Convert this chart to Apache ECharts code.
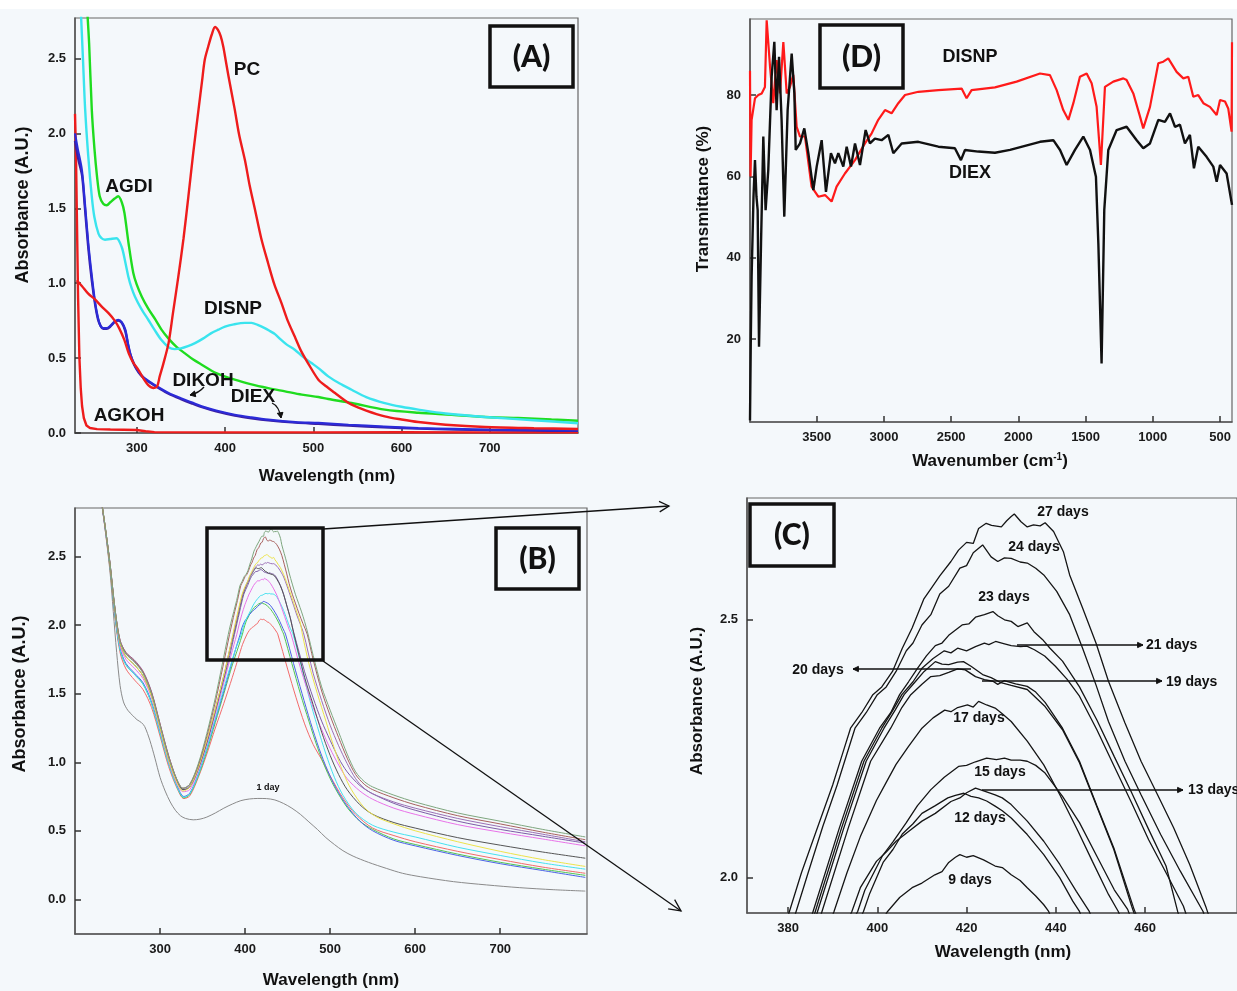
<!DOCTYPE html>
<html>
<head>
<meta charset="utf-8">
<script src="https://cdn.jsdelivr.net/npm/echarts@6/dist/echarts.min.js"></script>
<style>
  html, body { margin: 0; padding: 0; background: #f4f8fb; }
  #chart { width: 1237px; height: 991px; }
</style>
</head>
<body>
<div id="chart"></div>
<script>
// ---------- Panel A: UV-vis absorbance of extracts and nanoparticles ----------
const pcA = [[232,1.02],[238,0.98],[245,0.93],[253,0.89],[260,0.845],[268,0.80],[275,0.75],[280,0.70],[286,0.62],[291,0.53],[296,0.47],[302,0.42],[308,0.36],[313,0.32],[319,0.30],[323,0.31],[326,0.378],[330,0.46],[336,0.60],[341,0.80],[347,1.04],[353,1.30],[358.5,1.58],[364,1.87],[370,2.16],[374,2.35],[377,2.49],[381,2.58],[385,2.66],[388.7,2.71],[392,2.69],[395,2.65],[398,2.58],[401,2.48],[404,2.38],[411,2.16],[416,1.99],[422.6,1.82],[428,1.65],[434,1.49],[441,1.30],[449,1.13],[456,0.99],[464,0.867],[471,0.75],[479,0.644],[486,0.55],[494,0.467],[505.8,0.356],[515,0.31],[524.7,0.267],[534,0.225],[543.5,0.189],[560,0.15],[581,0.111],[600,0.09],[619,0.073],[650,0.055],[694.6,0.04],[750,0.032],[800,0.027]];
const agkohA = [[230,2.13],[231,1.9],[232,1.5],[233.5,0.9],[235,0.5],[236.5,0.3],[238,0.18],[240,0.10],[243,0.05],[247,0.033],[255,0.026],[270,0.023],[300,0.02],[310,0.012],[320,0.006],[400,0.004],[500,0.004],[600,0.005],[700,0.004],[800,0.005]];
const agdiA = [[243,2.9],[246,2.6],[249,2.16],[252,1.9],[255,1.71],[258,1.58],[262,1.53],[266,1.52],[270,1.54],[275,1.565],[279,1.58],[283,1.54],[286,1.47],[290.6,1.27],[296,1.07],[300,0.99],[305.7,0.91],[313,0.83],[320.8,0.76],[328,0.69],[336,0.63],[345,0.575],[355,0.53],[364,0.49],[373.6,0.456],[390,0.40],[411,0.356],[430,0.325],[449,0.30],[468,0.278],[487,0.256],[505.8,0.24],[517,0.227],[543.5,0.20],[581,0.156],[619,0.135],[657,0.122],[700,0.105],[732,0.10],[770,0.09],[800,0.082]];
const disnpA = [[236,2.9],[239,2.5],[241.5,2.16],[245,1.85],[249,1.58],[252,1.44],[256.6,1.33],[260,1.30],[264,1.29],[270,1.295],[277,1.30],[283,1.24],[287,1.14],[290.6,1.04],[294,0.97],[298,0.91],[305,0.83],[313,0.756],[320,0.69],[328,0.62],[336,0.573],[343,0.56],[350,0.565],[358,0.58],[366,0.60],[375,0.63],[384,0.665],[392.5,0.69],[400,0.71],[410,0.725],[422.6,0.735],[430,0.735],[437.7,0.72],[445,0.70],[451,0.68],[456.6,0.66],[463,0.625],[470,0.59],[479,0.556],[488,0.51],[498,0.467],[505.8,0.433],[517,0.378],[530,0.33],[543.5,0.289],[560,0.24],[581,0.20],[600,0.175],[619,0.156],[650,0.13],[694.6,0.107],[750,0.085],[800,0.065]];
const dikohA = [[230,2.0],[233,1.9],[237.7,1.76],[241,1.55],[245,1.27],[249,1.05],[252.8,0.87],[256,0.77],[258.5,0.72],[262,0.70],[266,0.70],[270,0.715],[275,0.745],[279,0.756],[283,0.74],[287,0.69],[290,0.60],[292.5,0.53],[297,0.46],[302,0.41],[308,0.37],[317,0.333],[326,0.30],[336,0.267],[350,0.232],[362,0.205],[373.6,0.178],[390,0.15],[411,0.122],[430,0.104],[449,0.089],[480,0.073],[505.8,0.067],[540,0.055],[580,0.043],[619,0.033],[660,0.027],[700,0.023],[750,0.02],[800,0.018]];
const diexA = [[230,1.95],[234,1.82],[238,1.72],[241,1.52],[245,1.24],[249,1.02],[253,0.85],[256,0.76],[259,0.715],[262,0.695],[266,0.695],[270,0.71],[275,0.74],[279,0.75],[283,0.735],[287,0.68],[290,0.59],[293,0.52],[297,0.455],[302,0.405],[308,0.365],[317,0.328],[326,0.295],[336,0.262],[350,0.226],[362,0.198],[374,0.172],[390,0.144],[411,0.116],[430,0.098],[449,0.084],[480,0.069],[506,0.061],[540,0.05],[580,0.038],[619,0.029],[660,0.023],[700,0.019],[750,0.016],[800,0.014]];

// ---------- Panel D: FTIR transmittance ----------
const disnpIR = [[3996,86],[3992,60],[3984,73.9],[3959,79.2],[3934,80],[3909,80.4],[3885,82],[3872,98.4],[3847,87],[3823,78],[3798,88.6],[3773,80.4],[3748,93],[3723,80.4],[3699,82],[3674,85],[3649,72.2],[3624,69.8],[3587,69.8],[3538,57.5],[3488,55],[3438,55.4],[3389,53.8],[3352,57.5],[3290,60.7],[3215,64],[3141,68.1],[3091,70.6],[3042,73.9],[2992,76.3],[2943,75.5],[2893,78],[2843,80],[2744,80.8],[2595,81.2],[2422,81.6],[2385,79.2],[2348,81.2],[2174,81.9],[2013,83.3],[1839,85.3],[1765,84.9],[1715,81.2],[1666,76.3],[1628,73.9],[1591,78],[1542,84.5],[1492,85.3],[1455,82.9],[1418,77.1],[1386,62.8],[1356,82],[1294,83.3],[1219,84.1],[1195,83.7],[1145,80.4],[1095,74.7],[1071,71.8],[1021,77.1],[959,87.8],[922,88.2],[885,89],[823,85.7],[773,84.1],[736,84.5],[699,79.6],[662,80],[624,78],[575,77.1],[525,75.1],[500,78.8],[463,78.4],[439,76.7],[414,71],[411,93]];
const diexIR = [[3996,0],[3990,20],[3984,35.3],[3970,55],[3959,64],[3948,55],[3939,51.7],[3929,18.1],[3914,43.5],[3897,69.8],[3880,51.7],[3860,61.6],[3835,84.5],[3815,93.1],[3798,76.3],[3780,89.4],[3761,73.9],[3741,50.1],[3716,76.3],[3686,90.2],[3666,80.4],[3656,66.5],[3624,68.1],[3592,71.8],[3562,65.7],[3525,56.6],[3500,62.4],[3463,68.9],[3431,56.2],[3394,65.7],[3364,63.2],[3339,65.7],[3302,62.4],[3277,67.3],[3245,62.4],[3215,68.1],[3178,62.8],[3136,71.4],[3104,68.1],[3067,69.3],[3017,68.9],[2967,70.2],[2930,65.7],[2868,68.1],[2744,68.5],[2595,67.3],[2472,66.9],[2427,64],[2397,66.5],[2298,66.1],[2174,65.8],[2062,66.5],[1839,68.5],[1740,68.9],[1690,66.5],[1641,62.8],[1579,66.5],[1517,69.8],[1467,66.5],[1423,59.9],[1405,43.5],[1381,14],[1361,51.7],[1331,66.5],[1269,71.4],[1195,72.2],[1120,68.9],[1071,66.9],[1021,68.1],[959,73.9],[910,73.4],[872,75.5],[835,72.2],[798,72.7],[761,68.1],[724,70.2],[694,62],[662,67.3],[600,64.8],[550,62.4],[525,58.7],[500,62.8],[451,60.7],[411,53]];

// ---------- Panels B and C: absorbance of the reaction mixture over time ----------
const day1 = [[230,2.95],[235,2.72],[241,2.40],[245,2.10],[249,1.80],[253,1.56],[257,1.44],[262,1.38],[268,1.34],[273,1.31],[278,1.29],[282,1.26],[288,1.16],[294,1.03],[300,0.89],[306,0.79],[312,0.71],[318,0.65],[324,0.61],[330,0.59],[339,0.58],[347,0.585],[355,0.60],[365,0.63],[375,0.665],[385,0.695],[395,0.72],[405,0.732],[415,0.736],[425,0.735],[435,0.725],[445,0.70],[455,0.665],[465,0.62],[475,0.565],[485,0.51],[495,0.45],[505,0.40],[515,0.355],[527,0.315],[545,0.27],[566,0.226],[585,0.19],[606,0.165],[645,0.129],[684,0.105],[723,0.085],[763,0.07],[800,0.06]];
const day9 = [[230,2.95],[235,2.72],[241,2.42],[247,2.06],[253,1.80],[260,1.68],[270,1.60],[280,1.53],[290,1.40],[300,1.19],[310,0.97],[320,0.81],[328,0.735],[335,0.755],[345,0.89],[355,1.06],[365,1.25],[375,1.43],[385,1.62],[392,1.76],[397,1.86],[402.3,1.935],[405,1.962],[407.8,1.981],[410,1.99],[412.9,2.006],[414.5,2.012],[416,2.03],[417.5,2.04],[418.5,2.045],[420,2.04],[421.5,2.043],[423.8,2.035],[426.4,2.023],[428,2.02],[430,2.006],[432,1.995],[433.6,1.981],[435.5,1.965],[437.3,1.948],[438.4,1.935],[450,1.68],[460,1.47],[470,1.28],[480,1.13],[490,1.02],[500,0.90],[515,0.74],[530,0.62],[550,0.52],[575,0.465],[600,0.42],[650,0.35],[700,0.29],[750,0.235],[800,0.19]];
const day12 = [[230,2.95],[235,2.73],[241,2.43],[247,2.07],[253,1.82],[260,1.71],[270,1.64],[280,1.57],[290,1.43],[300,1.21],[310,0.99],[320,0.82],[328,0.74],[335,0.765],[345,0.90],[355,1.08],[365,1.29],[375,1.50],[385,1.71],[392,1.84],[396.9,1.935],[398.3,1.97],[401.3,2.03],[403.5,2.055],[405.6,2.085],[408,2.105],[410,2.125],[413,2.14],[415.8,2.155],[417.5,2.16],[419.4,2.164],[421,2.158],[422.7,2.155],[424.5,2.149],[426.4,2.139],[428,2.13],[430,2.116],[433.6,2.084],[437.3,2.045],[440.9,2.0],[443.8,1.955],[445.3,1.935],[455,1.72],[465,1.50],[475,1.30],[485,1.11],[495,0.95],[505,0.82],[520,0.67],[535,0.57],[550,0.51],[575,0.44],[600,0.40],[650,0.33],[700,0.27],[750,0.22],[800,0.175]];
const day13 = [[230,2.95],[235,2.73],[241,2.44],[247,2.08],[253,1.83],[260,1.72],[270,1.65],[280,1.58],[290,1.44],[300,1.22],[310,1.00],[320,0.83],[328,0.75],[335,0.775],[345,0.915],[355,1.10],[365,1.31],[375,1.52],[385,1.74],[390,1.85],[394.3,1.935],[396.2,1.981],[399.8,2.032],[402,2.05],[404.2,2.071],[407,2.09],[410,2.11],[413,2.125],[416.5,2.148],[418.5,2.155],[420,2.165],[422,2.174],[424,2.168],[426.4,2.161],[428,2.155],[430,2.142],[433.6,2.11],[437.3,2.071],[440.9,2.026],[444.6,1.974],[447.5,1.935],[457,1.72],[467,1.50],[477,1.29],[487,1.10],[497,0.94],[507,0.81],[520,0.68],[535,0.57],[550,0.50],[575,0.43],[600,0.39],[650,0.32],[700,0.26],[750,0.21],[800,0.16]];
const day15 = [[230,2.95],[235,2.73],[241,2.44],[247,2.08],[253,1.82],[260,1.71],[270,1.64],[280,1.57],[290,1.43],[300,1.21],[310,0.99],[320,0.82],[328,0.745],[335,0.77],[345,0.91],[355,1.10],[365,1.32],[375,1.54],[385,1.75],[390,1.845],[395.6,1.935],[397.2,1.976],[401.1,2.042],[403.5,2.07],[406.5,2.107],[409,2.14],[412,2.171],[415,2.195],[418.2,2.216],[420,2.218],[422,2.225],[424.5,2.232],[426.7,2.229],[428.5,2.232],[430,2.228],[432,2.228],[433.6,2.226],[435.5,2.218],[437.6,2.203],[441.5,2.158],[445.3,2.107],[449.2,2.042],[453.1,1.977],[456.1,1.939],[465,1.73],[475,1.48],[485,1.26],[495,1.06],[505,0.89],[515,0.76],[530,0.63],[550,0.54],[575,0.49],[600,0.455],[650,0.38],[700,0.32],[750,0.265],[800,0.22]];
const day17 = [[230,2.95],[235,2.73],[241,2.45],[247,2.10],[253,1.85],[260,1.75],[270,1.685],[280,1.61],[290,1.47],[300,1.24],[310,1.01],[320,0.84],[327,0.785],[335,0.80],[345,0.94],[355,1.13],[365,1.35],[375,1.58],[383,1.77],[387,1.86],[390.3,1.935],[393.2,2.01],[396.2,2.08],[399.8,2.15],[402,2.185],[404.2,2.22],[407,2.255],[410,2.29],[412.5,2.31],[415.1,2.325],[416.5,2.322],[418,2.33],[420.2,2.335],[421.5,2.331],[422.7,2.342],[424.5,2.335],[426.4,2.329],[428,2.318],[430,2.303],[433.6,2.265],[437.3,2.219],[440.9,2.161],[444.6,2.097],[448.2,2.032],[451.8,1.968],[454,1.935],[465,1.69],[480,1.40],[490,1.24],[500,1.10],[510,0.98],[520,0.88],[535,0.79],[550,0.73],[575,0.665],[600,0.62],[650,0.545],[700,0.49],[750,0.44],[800,0.39]];
const day19 = [[230,2.95],[235,2.74],[241,2.46],[247,2.12],[253,1.88],[260,1.79],[270,1.735],[280,1.655],[290,1.505],[300,1.27],[310,1.04],[320,0.86],[327,0.80],[335,0.82],[345,0.95],[355,1.14],[365,1.37],[376,1.63],[382,1.78],[387.5,1.932],[393.5,2.097],[398.5,2.226],[403,2.29],[405.5,2.33],[407.5,2.355],[410,2.375],[412,2.39],[414,2.392],[416,2.398],[418,2.405],[419.7,2.403],[422,2.39],[424,2.384],[425.9,2.381],[427,2.375],[428.4,2.382],[431,2.376],[433.6,2.371],[435.5,2.36],[437.6,2.34],[441.5,2.29],[445.3,2.226],[449.2,2.14],[453,2.058],[457.5,1.94],[470,1.66],[480,1.47],[490,1.30],[500,1.16],[510,1.03],[520,0.93],[535,0.83],[550,0.77],[575,0.70],[600,0.65],[650,0.57],[700,0.51],[750,0.46],[800,0.41]];
const day20 = [[230,2.95],[235,2.74],[241,2.45],[247,2.11],[253,1.87],[260,1.77],[270,1.71],[280,1.63],[290,1.49],[300,1.26],[310,1.03],[320,0.86],[327,0.80],[335,0.82],[345,0.96],[355,1.15],[365,1.38],[376,1.65],[381,1.79],[386.5,1.932],[392.5,2.097],[397.5,2.226],[401.5,2.29],[404,2.325],[406,2.355],[408.5,2.38],[410.5,2.40],[413,2.419],[414.5,2.414],[416,2.413],[418,2.418],[419.3,2.419],[421,2.41],[423.6,2.394],[425.5,2.388],[427.5,2.379],[430,2.373],[433.6,2.365],[437.6,2.332],[441.5,2.287],[445.3,2.223],[449.2,2.138],[453,2.055],[457,1.945],[470,1.62],[480,1.42],[490,1.22],[500,1.05],[510,0.91],[520,0.80],[535,0.69],[550,0.62],[575,0.56],[600,0.52],[650,0.45],[700,0.395],[750,0.345],[800,0.30]];
const day21 = [[230,2.95],[235,2.74],[241,2.46],[247,2.12],[253,1.89],[260,1.80],[270,1.745],[280,1.665],[290,1.515],[300,1.28],[310,1.05],[320,0.87],[327,0.81],[335,0.83],[345,0.97],[355,1.16],[365,1.39],[376,1.66],[381,1.80],[386,1.932],[392,2.097],[397,2.226],[401,2.29],[403.5,2.325],[405.5,2.355],[408,2.38],[410,2.406],[412.5,2.425],[415,2.44],[416.5,2.436],[418,2.445],[420,2.44],[422,2.448],[424,2.455],[425,2.452],[426.5,2.458],[428.3,2.454],[430,2.45],[432.1,2.448],[433.5,2.449],[435.2,2.442],[437.5,2.43],[439.9,2.41],[442.5,2.385],[445.3,2.352],[449.2,2.287],[453.1,2.216],[457,2.145],[460.8,2.074],[464.7,2.01],[468.6,1.945],[480,1.65],[490,1.45],[500,1.27],[510,1.12],[520,0.99],[530,0.88],[540,0.81],[550,0.77],[575,0.71],[600,0.665],[650,0.59],[700,0.53],[750,0.475],[800,0.42]];
const day23 = [[230,2.95],[235,2.74],[241,2.45],[247,2.11],[253,1.87],[260,1.77],[270,1.71],[280,1.63],[290,1.48],[300,1.25],[310,1.02],[320,0.85],[327,0.79],[335,0.82],[345,0.96],[355,1.16],[365,1.39],[376,1.66],[381,1.80],[385.5,1.932],[391.5,2.097],[396.5,2.226],[400.5,2.29],[403,2.32],[405,2.355],[407,2.38],[409,2.406],[411,2.43],[413,2.45],[414.5,2.455],[416,2.47],[419,2.49],[420.5,2.492],[422,2.505],[424,2.51],[425.9,2.516],[427,2.508],[428.5,2.50],[430,2.497],[431.5,2.487],[433.6,2.494],[435.1,2.477],[437,2.462],[438.7,2.445],[441.5,2.42],[445.3,2.37],[449.2,2.306],[453.1,2.235],[457,2.165],[460.8,2.094],[464.7,2.023],[467.3,1.935],[475,1.72],[485,1.50],[495,1.30],[505,1.10],[515,0.93],[525,0.80],[540,0.67],[555,0.60],[575,0.55],[600,0.50],[650,0.42],[700,0.35],[750,0.29],[800,0.24]];
const day24 = [[230,2.95],[235,2.74],[241,2.46],[247,2.12],[253,1.89],[260,1.80],[270,1.74],[280,1.66],[290,1.51],[300,1.28],[310,1.05],[320,0.87],[327,0.81],[335,0.84],[345,0.98],[355,1.19],[365,1.44],[374,1.70],[381.7,1.932],[384.5,2.01],[387.8,2.10],[391,2.18],[395,2.29],[397.5,2.32],[400,2.355],[402,2.37],[404.2,2.40],[406.5,2.44],[408,2.455],[410,2.49],[412,2.51],[414,2.55],[416,2.565],[418.5,2.60],[420,2.605],[421.5,2.63],[423.6,2.645],[425.5,2.622],[427,2.613],[428.5,2.62],[430,2.619],[432,2.612],[433.6,2.61],[435.5,2.6],[437.3,2.587],[440.2,2.555],[443.1,2.51],[446,2.445],[449,2.374],[451.8,2.303],[455.5,2.226],[459.1,2.161],[463.5,2.084],[467.9,2.013],[473,1.935],[480,1.75],[490,1.52],[500,1.34],[510,1.18],[520,1.03],[530,0.91],[540,0.84],[550,0.80],[575,0.74],[600,0.69],[650,0.61],[700,0.55],[750,0.49],[800,0.435]];
const day27 = [[230,2.95],[235,2.74],[241,2.46],[247,2.12],[253,1.88],[260,1.79],[270,1.73],[280,1.65],[290,1.50],[300,1.27],[310,1.04],[320,0.87],[327,0.81],[335,0.84],[345,0.99],[355,1.21],[365,1.47],[373,1.71],[380.2,1.932],[383,2.01],[386.7,2.10],[390,2.18],[392,2.235],[394,2.29],[396.5,2.32],[399,2.355],[401,2.37],[403.4,2.40],[405.6,2.445],[407.8,2.484],[410.4,2.54],[412,2.56],[414,2.585],[416.5,2.613],[418.2,2.635],[420,2.65],[421.5,2.648],[422.7,2.677],[424.4,2.687],[425.6,2.683],[427.8,2.68],[429,2.692],[430,2.70],[430.7,2.705],[432.2,2.69],[433.6,2.68],[435,2.684],[436.5,2.682],[437.6,2.688],[439.5,2.671],[441.7,2.632],[443.1,2.587],[446,2.523],[449,2.455],[451.8,2.381],[455.5,2.30],[459.1,2.226],[462.8,2.161],[466.4,2.097],[470,2.026],[473.7,1.942],[480,1.78],[490,1.55],[500,1.38],[510,1.22],[520,1.06],[530,0.93],[540,0.86],[550,0.82],[575,0.76],[600,0.71],[650,0.63],[700,0.57],[750,0.51],[800,0.455]];

// ---------- Tick values ----------
const ticksWlA = [300, 400, 500, 600, 700];
const ticksAbsA = [0, 0.5, 1.0, 1.5, 2.0, 2.5];
const ticksWn = [3500, 3000, 2500, 2000, 1500, 1000, 500];
const ticksTr = [20, 40, 60, 80];
const ticksWlB = [300, 400, 500, 600, 700];
const ticksAbsB = [0, 0.5, 1.0, 1.5, 2.0, 2.5];
const ticksWlC = [380, 400, 420, 440, 460];
const ticksAbsC = [2.0, 2.5];

const FONT = '"Liberation Sans", Arial, Helvetica, sans-serif';
const BOXFONT = 'Lato, "Open Sans", sans-serif';

function valAxis(gridIndex, min, max, ticks, fmt, extra) {
  return Object.assign({
    type: 'value', gridIndex: gridIndex, min: min, max: max,
    axisLine: { show: true, onZero: false, lineStyle: { color: '#555', width: 1.5 } },
    axisTick: { show: true, inside: true, length: 6, customValues: ticks, lineStyle: { color: '#333', width: 1.5 } },
    axisLabel: { show: true, customValues: ticks, formatter: fmt, fontFamily: FONT, fontWeight: 'bold',
                 fontSize: 13, color: '#1a1a1a', margin: 9 },
    splitLine: { show: false }
  }, extra || {});
}
const f1 = v => Number(v).toFixed(1);
const f0 = v => String(Math.round(v));

function line(name, data, gi, color, width, smooth, z) {
  return {
    type: 'line', name: name, data: data, xAxisIndex: gi, yAxisIndex: gi,
    showSymbol: false, symbol: 'none', smooth: smooth || false, clip: true, silent: true,
    lineStyle: { color: color, width: width }, itemStyle: { color: color }, z: z || 2
  };
}

// Day series and their colours in panel B
const daySeries = [
  ['1 day', day1, '#8a8a8a'],
  ['9 days', day9, '#f26a6a'],
  ['12 days', day12, '#52c552'],
  ['13 days', day13, '#4a62e6'],
  ['15 days', day15, '#45e0ef'],
  ['17 days', day17, '#e872e8'],
  ['19 days', day19, '#7d5ca6'],
  ['20 days', day20, '#555555'],
  ['21 days', day21, '#9b6fb5'],
  ['23 days', day23, '#ece24a'],
  ['24 days', day24, '#a8605e'],
  ['27 days', day27, '#7ea67e']
];

const series = [
  // Panel A
  line('AGKOH', agkohA, 0, '#ee1c1c', 2.4),
  line('AGDI', agdiA, 0, '#1fdc1f', 2.4, 0.3),
  line('DISNP', disnpA, 0, '#3ae4ee', 2.4, 0.3),
  line('DIEX', diexA, 0, '#3d1fa0', 2.4, 0.3),
  line('DIKOH', dikohA, 0, '#2b2bd8', 2.2, 0.3),
  line('PC', pcA, 0, '#ee1c1c', 2.4, 0.3),
  // Panel D
  line('DISNP', disnpIR, 1, '#ff1a1a', 2.2),
  line('DIEX', diexIR, 1, '#111111', 2.4)
];
daySeries.forEach(d => series.push(line(d[0], d[1], 2, d[2], 1, 0.3)));
daySeries.slice(1).forEach(d => series.push(line(d[0], d[1], 3, '#151515', 1.3)));

// ---------- Annotations ----------
function txt(x, y, s, size, align, rot, family, weight) {
  return {
    type: 'text', x: x, y: y, rotation: rot || 0, z: 100, silent: true,
    style: { text: s, fontFamily: family || FONT, fontWeight: weight || 'bold', fontSize: size, fill: '#111',
             align: align || 'center', verticalAlign: 'middle',
             textAlign: align || 'center', textVerticalAlign: 'middle' }
  };
}
function box(x, y, w, h, lw) {
  return { type: 'rect', z: 90, silent: true, shape: { x: x, y: y, width: w, height: h },
           style: { fill: 'rgba(0,0,0,0)', stroke: '#111', lineWidth: lw } };
}
function seg(x1, y1, x2, y2, lw, color) {
  return { type: 'line', z: 95, silent: true, shape: { x1: x1, y1: y1, x2: x2, y2: y2 },
           style: { stroke: color || '#111', lineWidth: lw } };
}
function head(x1, y1, x2, y2, len, ang, filled, lw) {
  const th = Math.atan2(y2 - y1, x2 - x1);
  const p1 = [x2 - len * Math.cos(th - ang), y2 - len * Math.sin(th - ang)];
  const p2 = [x2 - len * Math.cos(th + ang), y2 - len * Math.sin(th + ang)];
  if (filled) {
    return { type: 'polygon', z: 96, silent: true, shape: { points: [p1, [x2, y2], p2] },
             style: { fill: '#111', stroke: '#111', lineWidth: 1 } };
  }
  return { type: 'polyline', z: 96, silent: true, shape: { points: [p1, [x2, y2], p2] },
           style: { stroke: '#111', lineWidth: lw || 1.3, fill: null } };
}
function arrow(x1, y1, x2, y2, lw, len, filled) {
  return [seg(x1, y1, x2, y2, lw), head(x1, y1, x2, y2, len, 0.45, filled, lw)];
}
function curvedArrow(x1, y1, cx, cy, x2, y2) {
  return [
    { type: 'bezierCurve', z: 95, silent: true,
      shape: { x1: x1, y1: y1, x2: x2, y2: y2, cpx1: cx, cpy1: cy },
      style: { stroke: '#111', lineWidth: 1.3, fill: null } },
    head(cx, cy, x2, y2, 6, 0.5, true)
  ];
}

const graphic = [].concat(
  [{ type: 'rect', z: 0, silent: true, shape: { x: 0, y: 0, width: 1237, height: 9 }, style: { fill: '#ffffff' } }],
  // axis titles
  [
    txt(23, 205, 'Absorbance (A.U.)', 18, 'center', Math.PI / 2),
    txt(327, 476, 'Wavelength (nm)', 17),
    txt(703, 199, 'Transmittance (%)', 17, 'center', Math.PI / 2),
    {
      type: 'text', x: 990, y: 461, z: 100, silent: true,
      style: { text: 'Wavenumber (cm{s|-1})', fontFamily: FONT, fontWeight: 'bold', fontSize: 17, fill: '#111',
               align: 'center', verticalAlign: 'middle', textAlign: 'center', textVerticalAlign: 'middle',
               rich: { s: { fontFamily: FONT, fontWeight: 'bold', fontSize: 10, fill: '#111', verticalAlign: 'top', padding: [0, 0, 6, 0] } } }
    },
    txt(20, 694, 'Absorbance (A.U.)', 18, 'center', Math.PI / 2),
    txt(331, 980, 'Wavelength (nm)', 17),
    txt(697, 701, 'Absorbance (A.U.)', 17, 'center', Math.PI / 2),
    txt(1003, 952, 'Wavelength (nm)', 17)
  ],
  // panel tags
  [
    box(490, 26, 83, 61, 3.5), txt(531.5, 57, '(A)', 30, 'center', 0, BOXFONT, 900),
    box(820, 25, 83, 63, 3.5), txt(861.5, 57, '(D)', 30, 'center', 0, BOXFONT, 900),
    box(496, 528, 83, 61, 3.5), txt(537.5, 559, '(B)', 30, 'center', 0, BOXFONT, 900),
    box(750, 504, 84, 62, 3.5), txt(792, 535, '(C)', 30, 'center', 0, BOXFONT, 900)
  ],
  // panel A curve names
  [
    txt(247, 70, 'PC', 19), txt(129, 187, 'AGDI', 19), txt(233, 309, 'DISNP', 19),
    txt(203, 381, 'DIKOH', 19), txt(253, 397, 'DIEX', 19), txt(129, 416, 'AGKOH', 19)
  ],
  curvedArrow(204, 387, 199, 393, 190, 395),
  curvedArrow(272, 403, 279, 406, 281, 418),
  // panel D curve names
  [txt(970, 57, 'DISNP', 18), txt(970, 173, 'DIEX', 18)],
  // panel B: zoom window and its leader lines
  [txt(268, 788, '1 day', 9), box(207, 528, 116, 132, 3.5)],
  [seg(323, 529, 669, 506, 1.3), head(323, 529, 669, 506, 11, 0.5, false, 1.3)],
  [seg(323, 661, 681, 911, 1.3), head(323, 661, 681, 911, 13, 0.45, false, 1.3)],
  // panel C day labels
  [
    txt(1063, 512, '27 days', 14), txt(1034, 547, '24 days', 14), txt(1004, 597, '23 days', 14),
    txt(1146, 645, '21 days', 14, 'left'), txt(818, 670, '20 days', 14), txt(1166, 682, '19 days', 14, 'left'),
    txt(979, 718, '17 days', 14), txt(1000, 772, '15 days', 14), txt(1188, 790, '13 days', 14, 'left'),
    txt(980, 818, '12 days', 14), txt(970, 880, '9 days', 14)
  ],
  arrow(1017, 645, 1143, 645, 1.3, 6, true),
  arrow(982, 681, 1162, 681, 1.3, 6, true),
  arrow(982, 790, 1183, 790, 1.3, 6, true),
  arrow(971, 669, 853, 669, 1.3, 6, true)
);

const chart = echarts.init(document.getElementById('chart'), null, { renderer: 'canvas' });
chart.setOption({
  backgroundColor: '#f4f8fb',
  animation: false,
  grid: [
    { left: 75, top: 18, width: 503, height: 415, show: true, borderColor: '#666', borderWidth: 1.2 },
    { left: 750, top: 19, width: 482, height: 403, show: true, borderColor: '#666', borderWidth: 1.2 },
    { left: 75, top: 508, width: 512, height: 426, show: true, borderColor: '#666', borderWidth: 1.2 },
    { left: 747, top: 498, width: 503, height: 415, show: true, borderColor: '#666', borderWidth: 1.2 }
  ],
  xAxis: [
    valAxis(0, 230, 800, ticksWlA, f0),
    valAxis(1, 411, 3996, ticksWn, f0, { inverse: true }),
    valAxis(2, 200, 802, ticksWlB, f0),
    valAxis(3, 370.8, 480.6, ticksWlC, f0)
  ],
  yAxis: [
    valAxis(0, 0, 2.77, ticksAbsA, f1),
    valAxis(1, -0.4, 98.7, ticksTr, f0),
    valAxis(2, -0.253, 2.855, ticksAbsB, f1),
    valAxis(3, 1.932, 2.736, ticksAbsC, f1)
  ],
  series: series,
  graphic: graphic
});
</script>
</body>
</html>
